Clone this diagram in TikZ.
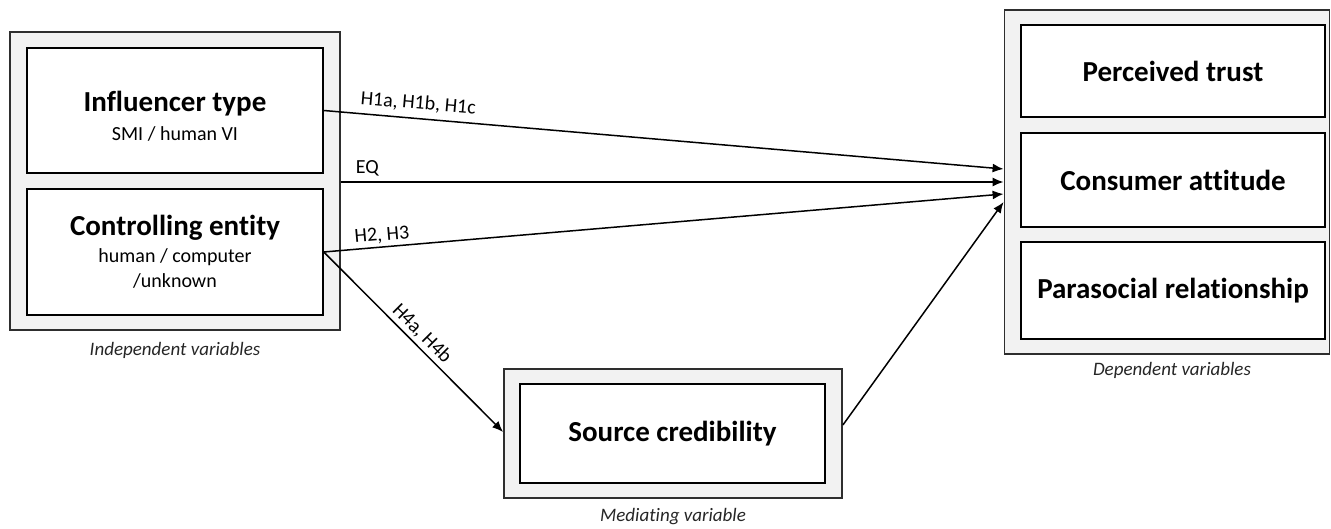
\documentclass[tikz,border=0pt]{standalone}
\usepackage{fontspec}
\setmainfont[Ligatures=NoCommon]{Carlito}
\usetikzlibrary{arrows.meta}
\definecolor{panelgray}{HTML}{F2F2F2}
\definecolor{edgegray}{HTML}{2E2E2E}
\newcommand{\titlefont}{\fontsize{29}{34}\selectfont\bfseries}
\newcommand{\subfont}{\fontsize{20}{25}\selectfont}
\tikzset{
  panel/.style={draw=edgegray, line width=1.8pt, fill=panelgray, inner sep=0pt},
  varbox/.style={draw=black, line width=1.6pt, fill=white, inner sep=0pt, align=center},
  boxtext/.style={font=\subfont, align=center, inner sep=0pt},
  title/.style={font=\titlefont},
  caption/.style={font=\fontsize{19}{22}\selectfont\itshape, text=black!85},
  hyp/.style={font=\fontsize{20}{24}\selectfont, inner sep=2pt},
  link/.style={-{Latex[length=11pt,width=9pt]}, line width=1.5pt}
}
\begin{document}
\begin{tikzpicture}[x=1pt, y=-1pt]
\useasboundingbox (0,0) rectangle (1331,529);

% independent variables
\node[panel, minimum width=330pt, minimum height=298pt] (indep) at (175,181) {};
\node[varbox, minimum width=296pt, minimum height=125pt] (itype) at (175,110.5) {};
\node[boxtext] (itypetext) at (175,116)
  {{\titlefont Influencer type}\\[4pt]SMI / human VI};
\node[varbox, font=\subfont, minimum width=296pt, minimum height=126pt] (ctrl) at (175,252)
  {{\titlefont Controlling entity}\\[2pt]human / computer\\/unknown};
\node[caption] (indepcap) at (175,350) {Independent variables};

% dependent variables
\node[panel, minimum width=325pt, minimum height=344pt] (dep) at (1167,182) {};
\node[varbox, title, minimum width=304pt, minimum height=92pt] (trust) at (1173,71) {Perceived trust};
\node[varbox, title, minimum width=304pt, minimum height=94pt] (attit) at (1173,180) {Consumer attitude};
\node[varbox, title, minimum width=304pt, minimum height=97pt] (para) at (1173,290.5) {Parasocial relationship};
\node[caption] (depcap) at (1172,370) {Dependent variables};

% mediating variable
\node[panel, minimum width=338pt, minimum height=129pt] (med) at (673,433.5) {};
\node[varbox, title, minimum width=305pt, minimum height=99pt] (cred) at (672.5,433.5) {Source credibility};
\node[caption] (medcap) at (673,517) {Mediating variable};

% hypothesised paths
\draw[link] (itype.east) -- node[hyp, sloped, above=4pt, pos=0.137] {H1a, H1b, H1c} ([yshift=13pt]dep.west);
\draw[link] ([yshift=-1pt]indep.east) -- node[hyp, above=3pt, pos=0.04] {EQ} (dep.west);
\draw[link] (ctrl.east) -- node[hyp, sloped, above=1pt, pos=0.087] {H2, H3} ([yshift=-12pt]dep.west);
\draw[link] (ctrl.east) -- node[hyp, sloped, above=1pt, pos=0.5] {H4a, H4b} ([yshift=1.5pt]med.west);
\draw[link] ([yshift=8.5pt]med.east) -- ([yshift=-20pt]dep.west);
\end{tikzpicture}
\end{document}
